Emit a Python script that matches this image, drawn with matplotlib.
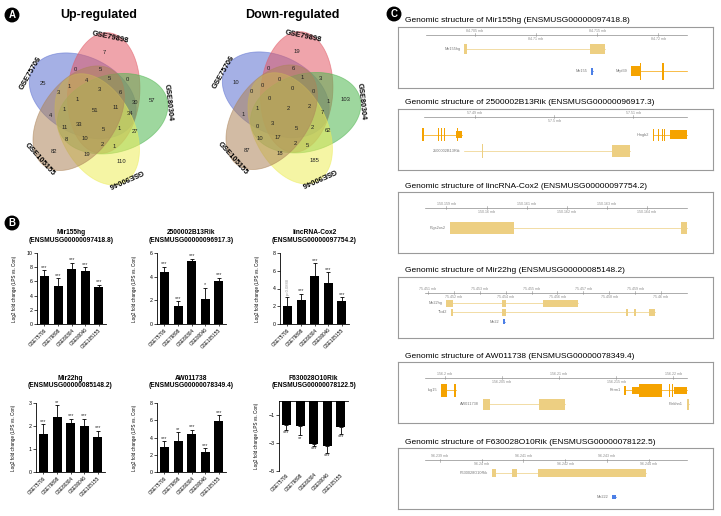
import numpy as np
import matplotlib
matplotlib.use('Agg')
import matplotlib.pyplot as plt
from matplotlib.patches import Polygon, Rectangle

plt.rcParams['font.family'] = ['Liberation Sans', 'DejaVu Sans']

W, H = 721, 516
fig = plt.figure(figsize=(W / 100, H / 100), dpi=100)
fig.patch.set_facecolor('white')


def px_axes(x0, y0, w, h):
    return fig.add_axes([x0 / W, 1 - (y0 + h) / H, w / W, h / H])


# ---------------- A: Venn counts ----------------
venn_sets = ['GSE75706', 'GSE79898', 'GSE80304', 'GSE90046', 'GSE105155']
venn_colors = ['#5B6FD0', '#E25A66', '#4FB64F', '#EDED5A', '#AD8459']
# one value per set position (blue, red, green, yellow, brown side), per region ring
up_only = [25, 7, 57, 110, 82]
up_r1 = [0, 0, 27, 19, 4]
up_r2 = [3, 5, 30, 1, 8]
up_r3 = [1, 5, 34, 2, 11]
up_r4 = [1, 4, 6, 1, 10]
up_r5 = [1, 3, 11, 5, 33]
up_all = 51
down_only = [10, 19, 103, 185, 87]
down_r1 = [0, 3, 62, 18, 1]
down_r2 = [0, 6, 1, 5, 10]
down_r3 = [0, 1, 7, 2, 0]
down_r4 = [1, 0, 0, 2, 17]
down_r5 = [0, 0, 2, 5, 3]
down_all = 2

# layout of the five-ellipse diagram (px)
ring_r = [58, 45, 41, 35, 30.7, 21]
ring_a = [153, 115.4, 154.4, 138, 178.5, 150]
PSI0, DELTA, DIST, SEMI_A, SEMI_B, STRETCH = 157, -24, 18, 36, 56, 1.08

# ---------------- B: bar data ----------------
datasets = ['GSE75706', 'GSE79898', 'GSE80304', 'GSE90046', 'GSE105155']
mir155hg_fc = [6.8, 5.4, 7.8, 7.4, 5.2]
mir155hg_sd = [0.75, 1.05, 0.8, 0.6, 0.35]
mir155hg_sig = ['***', '***', '***', '***', '***']
rik2500_fc = [4.37, 1.55, 5.29, 2.13, 3.62]
rik2500_sd = [0.45, 0.38, 0.23, 0.95, 0.3]
rik2500_sig = ['***', '***', '***', '*', '***']
cox2_fc = [2.0, 2.76, 5.36, 4.6, 2.64]
cox2_sd = [1.07, 0.65, 1.5, 1.22, 0.39]
cox2_sig = ['p=0.0888', '***', '***', '***', '***']
mir22hg_fc = [1.65, 2.39, 2.12, 1.99, 1.54]
mir22hg_sd = [0.43, 0.51, 0.19, 0.32, 0.25]
mir22hg_sig = ['***', '**', '***', '***', '***']
aw011738_fc = [2.93, 3.55, 4.38, 2.34, 5.86]
aw011738_sd = [0.66, 1.06, 0.5, 0.39, 0.7]
aw011738_sig = ['***', '**', '***', '***', '***']
f630_fc = [-1.72, -1.77, -3.05, -3.22, -1.89]
f630_sd = [0.36, 0.68, 0.17, 0.5, 0.44]
f630_sig = ['***', '**', '***', '***', '***']

# ---------------- C: genomic structure ----------------
gs_titles = ['Genomic structure of Mir155hg (ENSMUSG00000097418.8)',
             'Genomic structure of 2500002B13Rik (ENSMUSG00000096917.3)',
             'Genomic structure of lincRNA-Cox2 (ENSMUSG00000097754.2)',
             'Genomic structure of Mir22hg (ENSMUSG00000085148.2)',
             'Genomic structure of AW011738 (ENSMUSG00000078349.4)',
             'Genomic structure of F630028O10Rik (ENSMUSG00000078122.5)']
gs_ref_mb = [84.705, 57.49, 150.159, 75.451, 156.2, 96.239]
gs_step_kb = [5, 10, 1, 1, 5, 1]
gs_nticks = [4, 3, 6, 10, 5, 6]
gs_view_kb = [(-6.27, 19.45), (-9.68, 30.02), (-1.21, 6.65), (-1.16, 11.01), (-4.09, 23.48), (-1.0, 6.54)]
gs_line_kb = [(-3.96, 17.32), (-6.4, 26.74), (-0.54, 6.0), (-0.13, 10.0), (-1.75, 21.2), (-0.36, 5.92)]
gs_axis_y = [0.13, 0.13, 0.26, 0.255, 0.26, 0.2]

TAN, ORANGE, BLUE = '#EDCF82', '#F5A300', '#4C7FE6'
# (label, row, colour, intron span kb, exons (start kb, end kb, height))
genes_mir155hg = [
    ('Mir155hg', 0.36, TAN, (-0.87, 10.64), [(-0.87, -0.65, .16), (9.41, 10.64, .16)]),
    ('Mir155', 0.727, BLUE, (9.49, 9.66), [(9.49, 9.66, .12)]),
    ('Mrpl39', 0.727, ORANGE, (12.77, 17.32), [(12.77, 13.5, .16), (13.5, 13.61, .28), (15.28, 15.41, .28)]),
]
genes_2500002b13rik = [
    ('', 0.42, ORANGE, (-6.6, -1.6), [(-6.6, -6.45, .22), (-4.7, -4.56, .22), (-4.28, -4.14, .22),
                                      (-3.94, -3.8, .22), (-2.32, -1.6, .12), (-2.2, -2.08, .22)]),
    ('Hmgb2', 0.42, ORANGE, (22.45, 26.73), [(22.45, 22.6, .2), (23.1, 23.25, .2), (23.55, 23.7, .2),
                                              (23.85, 24.0, .2), (24.63, 26.73, .14)]),
    ('2500002B13Rik', 0.69, TAN, (-1.39, 19.58), [(-1.39, -1.3, .2), (0.93, 1.05, .22), (17.26, 19.58, .2)]),
]
genes_cox2 = [
    ('Ptgs2os2', 0.593, TAN, (0.083, 6.0), [(0.083, 1.69, .19), (5.86, 6.0, .19)]),
]
genes_mir22hg = [
    ('Mir22hg', 0.43, TAN, (0.71, 5.81), [(0.71, 0.97, .11), (2.84, 3.01, .11), (4.45, 5.81, .11)]),
    ('Tlcd2', 0.58, TAN, (0.9, 8.75), [(0.9, 0.95, .11), (2.84, 3.01, .11), (7.64, 7.74, .11),
                                       (7.94, 8.03, .11), (8.55, 8.75, .11)]),
    ('Mir22', 0.73, BLUE, (2.89, 2.97), [(2.89, 2.97, .07)]),
]
genes_aw011738 = [
    ('Isg15', 0.467, ORANGE, (-0.35, 0.96), [(-0.35, 0.23, .2), (0.85, 0.96, .2)]),
    ('Perm1', 0.467, ORANGE, (15.73, 21.2), [(15.73, 15.85, .14), (16.37, 16.96, .1), (16.96, 19.0, .2),
                                             (19.59, 19.74, .2), (19.88, 20.0, .2), (20.06, 21.2, .12)]),
    ('AW011738', 0.696, TAN, (3.36, 10.53), [(3.36, 3.95, .18), (8.25, 10.53, .18)]),
    ('Plekhn1', 0.696, TAN, (21.2, 21.35), [(21.2, 21.35, .18)]),
]
genes_f630 = [
    ('F630028O10Rik', 0.41, TAN, (1.24, 4.94), [(1.24, 1.34, .12), (1.74, 1.85, .12), (2.34, 4.94, .12)]),
    ('Mir222', 0.8, BLUE, (4.12, 4.22), [(4.12, 4.22, .07)]),
]
gs_genes = [genes_mir155hg, genes_2500002b13rik, genes_cox2, genes_mir22hg, genes_aw011738, genes_f630]


# ---------------- A: Venn diagrams ----------------
def draw_venn(cx, cy, title, only, r1, r2, r3, r4, r5, allv):
    ax = px_axes(cx - 92, 25, 184, 180)
    ax.set_xlim(-92, 92)
    ax.set_ylim(cy - 205, cy - 25)
    ax.axis('off')
    t = np.linspace(0, 2 * np.pi, 200)
    for k in range(5):
        psi = np.radians(PSI0 - 72 * k)
        phi = psi + np.radians(DELTA)
        ex = DIST * np.cos(phi) + SEMI_B * np.cos(t) * np.cos(psi) - SEMI_A * np.sin(t) * np.sin(psi)
        ey = DIST * np.sin(phi) + SEMI_B * np.cos(t) * np.sin(psi) + SEMI_A * np.sin(t) * np.cos(psi)
        ax.add_patch(Polygon(np.c_[ex, ey * STRETCH], closed=True, facecolor=venn_colors[k], alpha=0.55,
                             edgecolor=venn_colors[k], lw=0.6))
    for ring, (r, a0) in enumerate(zip(ring_r, ring_a)):
        vals = [only, r1, r2, r3, r4, r5][ring]
        for k, v in enumerate(vals):
            a = np.radians(a0 - 72 * k)
            ax.text(r * np.cos(a), r * np.sin(a), str(v), ha='center', va='center', fontsize=4.2,
                    color='#222222')
    ax.text(0, 0, str(allv), ha='center', va='center', fontsize=4.2, color='#222222')
    for k, name in enumerate(venn_sets):
        a = 150 - 72 * k
        rot = a - 90 if k != 4 else a + 90
        ax.text(74 * np.cos(np.radians(a)), 74 * np.sin(np.radians(a)), name, rotation=rot,
                rotation_mode='anchor', ha='center', va='center', fontsize=5.5, fontweight='bold')
    fig.text((cx + 4) / W, 1 - 15 / H, title, ha='center', va='center', fontsize=9, fontweight='bold')


draw_venn(95, 110, 'Up-regulated', up_only, up_r1, up_r2, up_r3, up_r4, up_r5, up_all)
draw_venn(288, 109, 'Down-regulated', down_only, down_r1, down_r2, down_r3, down_r4, down_r5, down_all)


# ---------------- B: bar charts ----------------
def bar_panel(x0, top, bottom, title, title_y, fc, sd, sig, ylim, yticks):
    ax = px_axes(x0, top, 69, bottom - top)
    x = np.arange(len(datasets))
    fc = np.array(fc)
    sd = np.array(sd)
    ax.bar(x, fc, width=0.66, color='black')
    yerr = [np.where(fc < 0, sd, 0), np.where(fc >= 0, sd, 0)]
    ax.errorbar(x, fc, yerr=yerr, fmt='none', ecolor='black', elinewidth=0.6, capsize=1.6, capthick=0.6)
    for xi, v, e, s in zip(x, fc, sd, sig):
        if s.startswith('p'):
            ax.annotate(s, (xi, v + e), xytext=(0, 1), textcoords='offset points', rotation=90,
                        ha='center', va='bottom', fontsize=3, color='#999999')
        elif v >= 0:
            ax.annotate(s, (xi, v + e), xytext=(0, 0.3), textcoords='offset points',
                        ha='center', va='bottom', fontsize=4, color='#333333')
        else:
            ax.annotate(s, (xi, v - e), xytext=(0, -0.3), textcoords='offset points',
                        ha='center', va='top', fontsize=4, color='#333333')
    ax.set_xlim(-0.55, 4.52)
    ax.set_ylim(*ylim)
    ax.set_yticks(yticks)
    ax.set_xticks(x)
    ax.set_xticklabels(datasets, rotation=45, ha='right', rotation_mode='anchor', fontsize=3.4)
    ax.tick_params(axis='y', labelsize=3.8, length=2, width=0.5, pad=1)
    ax.tick_params(axis='x', length=1.5, width=0.5, pad=1)
    for sp in ['top', 'right']:
        ax.spines[sp].set_visible(False)
    for sp in ['left', 'bottom']:
        ax.spines[sp].set_linewidth(0.6)
    if ylim[1] <= 0:
        ax.spines['bottom'].set_visible(False)
        ax.spines['top'].set_visible(True)
        ax.spines['top'].set_linewidth(0.6)
        ax.tick_params(axis='x', length=0)
    ax.set_ylabel('Log2 fold change (LPS vs. Con)', fontsize=3.3)
    ax.yaxis.set_label_coords(-20 / 69, 0.5)
    fig.text((x0 + 34.5) / W, 1 - title_y / H, title, ha='center', va='center', fontsize=4.8,
             fontweight='bold', linespacing=1.15)
    return ax


bar_panel(37, 253, 324, 'Mir155hg\n(ENSMUSG00000097418.8)', 236.7,
          mir155hg_fc, mir155hg_sd, mir155hg_sig, (0, 10), [0, 2, 4, 6, 8, 10])
bar_panel(157, 253, 324, '2500002B13Rik\n(ENSMUSG00000096917.3)', 236.7,
          rik2500_fc, rik2500_sd, rik2500_sig, (0, 6), [0, 2, 4, 6])
bar_panel(280, 253, 324, 'lincRNA-Cox2\n(ENSMUSG00000097754.2)', 236.7,
          cox2_fc, cox2_sd, cox2_sig, (0, 8), [0, 2, 4, 6, 8])
bar_panel(36, 403, 472, 'Mir22hg\n(ENSMUSG00000085148.2)', 382,
          mir22hg_fc, mir22hg_sd, mir22hg_sig, (0, 3), [0, 1, 2, 3])
bar_panel(157, 403, 472, 'AW011738\n(ENSMUSG00000078349.4)', 382,
          aw011738_fc, aw011738_sd, aw011738_sig, (0, 8), [0, 2, 4, 6, 8])
bar_panel(279, 401, 471, 'F630028O10Rik\n(ENSMUSG00000078122.5)', 382,
          f630_fc, f630_sd, f630_sig, (-5, 0), [-1, -3, -5])

# ---------------- C: genomic structures ----------------
box_tops = [27, 109, 192, 277, 362, 448]
for i in range(6):
    top = box_tops[i]
    fig.text(405 / W, 1 - (top - 6) / H, gs_titles[i], ha='left', va='center', fontsize=6.0)
    ax = px_axes(398, top, 315, 61)
    ax.set_xlim(*gs_view_kb[i])
    ax.set_ylim(1, 0)
    ax.set_xticks([])
    ax.set_yticks([])
    for sp in ax.spines.values():
        sp.set_color('#9A9A9A')
        sp.set_linewidth(0.8)
    ya = gs_axis_y[i]
    ax.plot(gs_line_kb[i], [ya, ya], color='#8C8C8C', lw=0.5)
    for j in range(gs_nticks[i]):
        kb = j * gs_step_kb[i]
        ax.plot([kb, kb], [ya - 0.025, ya + 0.025], color='#8C8C8C', lw=0.4)
        lab = '%g mb' % round(gs_ref_mb[i] + kb / 1000, 3)
        ax.text(kb, ya - 0.03 if j % 2 == 0 else ya + 0.035, lab, ha='center',
                va='bottom' if j % 2 == 0 else 'top', fontsize=2.6, color='#8C8C8C')
    for name, row, col, span, exons in gs_genes[i]:
        ax.plot(span, [row, row], color=col, lw=0.5)
        for s, e, h in exons:
            ax.add_patch(Rectangle((s, row - h / 2), e - s, h, facecolor=col, edgecolor='none'))
        if name:
            pad = (gs_view_kb[i][1] - gs_view_kb[i][0]) * 0.012
            ax.text(exons[0][0] - pad, row, name, ha='right', va='center', fontsize=2.8, color='#777777')

# ---------------- panel letters ----------------
for lab, x, y in [('A', 12, 15), ('B', 12, 223), ('C', 394, 14)]:
    fig.text(x / W, 1 - y / H, lab, ha='center', va='center', fontsize=7, fontweight='bold', color='white',
             bbox=dict(boxstyle='circle,pad=0.18', fc='black', ec='black'))

fig.savefig('out.png', dpi=100, facecolor='white')
